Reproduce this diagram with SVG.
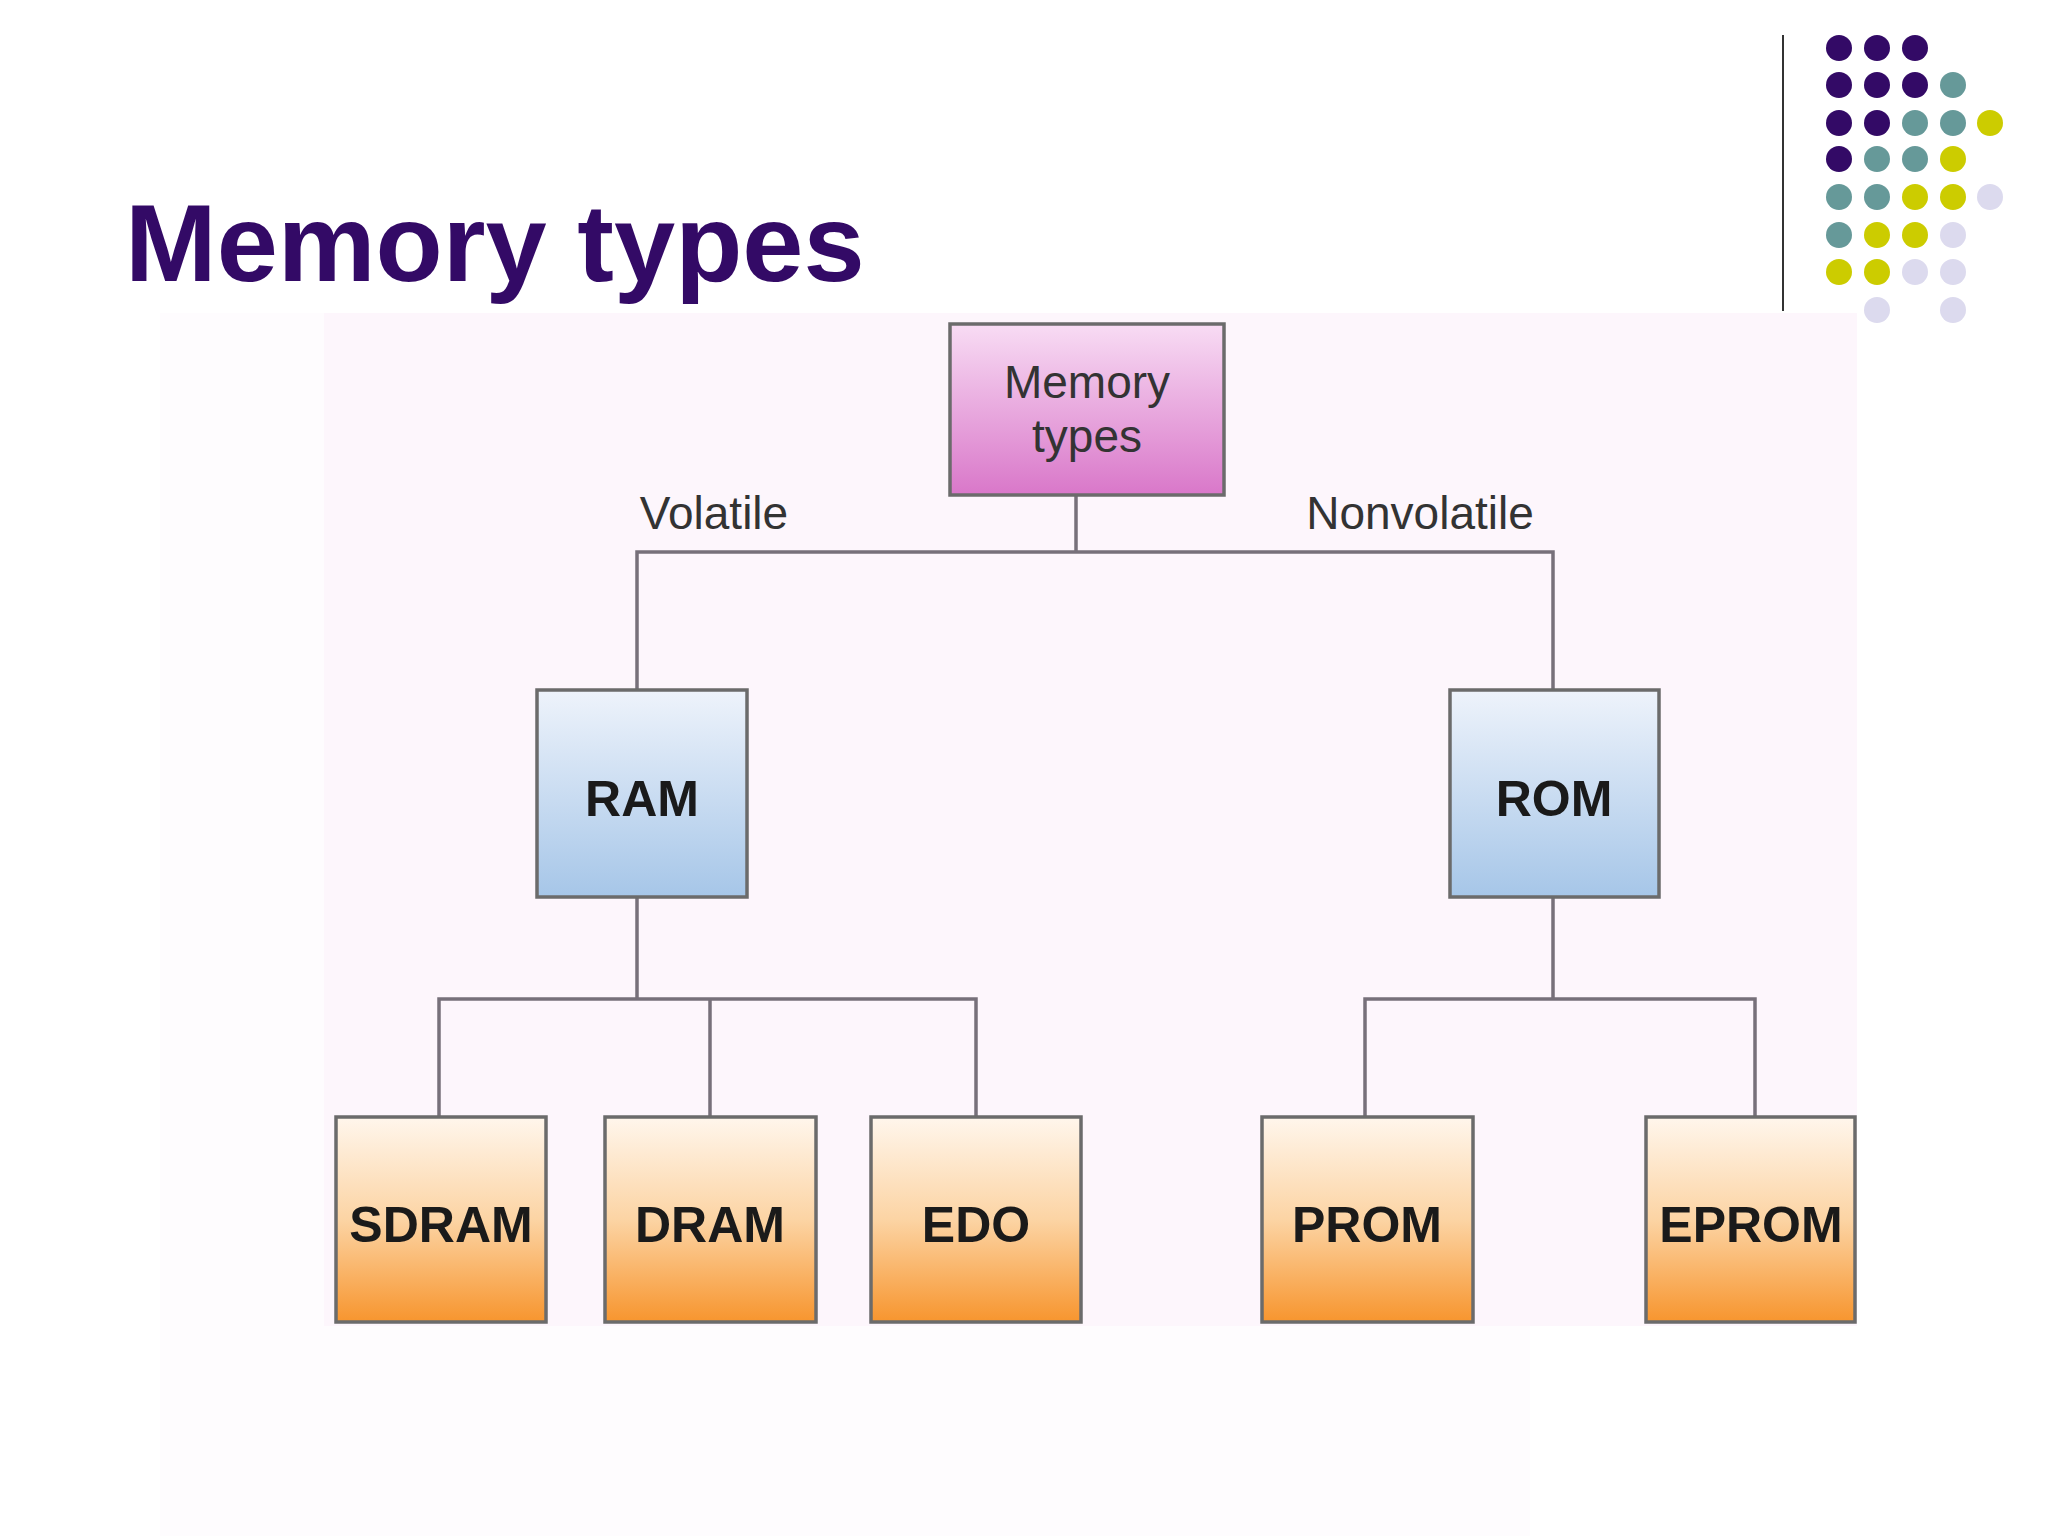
<svg xmlns="http://www.w3.org/2000/svg" width="2048" height="1536" viewBox="0 0 2048 1536">
<style>
.box{stroke:#6b6b6b;stroke-width:3.5}
.ln{stroke:#77707a;stroke-width:3.5;fill:none}
.bt{font-family:"Liberation Sans",Arial,sans-serif;font-weight:bold;font-size:50px;fill:#1a1a1a;text-anchor:middle}
.lb{font-family:"Liberation Sans",Arial,sans-serif;font-size:46px;fill:#333;text-anchor:middle}
.P{fill:#330a66}.T{fill:#669999}.Y{fill:#cccc00}.L{fill:#dcdaee}
</style>
<defs>
<linearGradient id="gp" x1="0" y1="0" x2="0" y2="1"><stop offset="0" stop-color="#f8dcf4"/><stop offset="1" stop-color="#d977c9"/></linearGradient>
<linearGradient id="gb" x1="0" y1="0" x2="0" y2="1"><stop offset="0" stop-color="#eef3fb"/><stop offset="1" stop-color="#a6c6e8"/></linearGradient>
<linearGradient id="go" x1="0" y1="0" x2="0" y2="1"><stop offset="0" stop-color="#fff6ec"/><stop offset="0.5" stop-color="#fcd4a4"/><stop offset="1" stop-color="#f7952e"/></linearGradient>
</defs>
<rect width="2048" height="1536" fill="#fff"/>
<rect x="160" y="313" width="1370" height="1223" fill="#fefcfe"/>
<rect x="324" y="313" width="1533" height="1013" fill="#fdf6fc"/>
<text x="125" y="281" font-family="Liberation Sans,Arial,sans-serif" font-weight="bold" font-size="110" fill="#330a66">Memory types</text>
<line x1="1783" y1="35" x2="1783" y2="311" stroke="#333" stroke-width="2"/>
<g id="dots">
<circle class="P" cx="1839" cy="48" r="13"/><circle class="P" cx="1877" cy="48" r="13"/><circle class="P" cx="1915" cy="48" r="13"/>
<circle class="P" cx="1839" cy="85" r="13"/><circle class="P" cx="1877" cy="85" r="13"/><circle class="P" cx="1915" cy="85" r="13"/><circle class="T" cx="1953" cy="85" r="13"/>
<circle class="P" cx="1839" cy="123" r="13"/><circle class="P" cx="1877" cy="123" r="13"/><circle class="T" cx="1915" cy="123" r="13"/><circle class="T" cx="1953" cy="123" r="13"/><circle class="Y" cx="1990" cy="123" r="13"/>
<circle class="P" cx="1839" cy="159" r="13"/><circle class="T" cx="1877" cy="159" r="13"/><circle class="T" cx="1915" cy="159" r="13"/><circle class="Y" cx="1953" cy="159" r="13"/>
<circle class="T" cx="1839" cy="197" r="13"/><circle class="T" cx="1877" cy="197" r="13"/><circle class="Y" cx="1915" cy="197" r="13"/><circle class="Y" cx="1953" cy="197" r="13"/><circle class="L" cx="1990" cy="197" r="13"/>
<circle class="T" cx="1839" cy="235" r="13"/><circle class="Y" cx="1877" cy="235" r="13"/><circle class="Y" cx="1915" cy="235" r="13"/><circle class="L" cx="1953" cy="235" r="13"/>
<circle class="Y" cx="1839" cy="272" r="13"/><circle class="Y" cx="1877" cy="272" r="13"/><circle class="L" cx="1915" cy="272" r="13"/><circle class="L" cx="1953" cy="272" r="13"/>
<circle class="L" cx="1877" cy="310" r="13"/><circle class="L" cx="1953" cy="310" r="13"/>
</g>
<g id="connectors">
<path class="ln" d="M1076 495V552M637 690V552H1553V690"/>
<path class="ln" d="M637 897V999M439 1117V999H976V1117M710 999V1117"/>
<path class="ln" d="M1553 897V999M1365 1117V999H1755V1117"/>
<text class="lb" x="714" y="529">Volatile</text>
<text class="lb" x="1420" y="529">Nonvolatile</text>
</g>
<g id="root"><rect class="box" x="950" y="324" width="274" height="171" fill="url(#gp)"/>
<text class="lb" x="1087" y="398" font-size="48" fill="#222">Memory</text><text class="lb" x="1087" y="452" font-size="48" fill="#222">types</text></g>
<g id="ram"><rect class="box" x="537" y="690" width="210" height="207" fill="url(#gb)"/><text class="bt" x="642" y="816">RAM</text></g>
<g id="rom"><rect class="box" x="1450" y="690" width="209" height="207" fill="url(#gb)"/><text class="bt" x="1554" y="816">ROM</text></g>
<g id="sdram"><rect class="box" x="336" y="1117" width="210" height="205" fill="url(#go)"/><text class="bt" x="441" y="1242" font-size="46">SDRAM</text></g>
<g id="dram"><rect class="box" x="605" y="1117" width="211" height="205" fill="url(#go)"/><text class="bt" x="710" y="1242" font-size="46">DRAM</text></g>
<g id="edo"><rect class="box" x="871" y="1117" width="210" height="205" fill="url(#go)"/><text class="bt" x="976" y="1242" font-size="46">EDO</text></g>
<g id="prom"><rect class="box" x="1262" y="1117" width="211" height="205" fill="url(#go)"/><text class="bt" x="1367" y="1242" font-size="46">PROM</text></g>
<g id="eprom"><rect class="box" x="1646" y="1117" width="209" height="205" fill="url(#go)"/><text class="bt" x="1751" y="1242" font-size="46">EPROM</text></g>
</svg>
